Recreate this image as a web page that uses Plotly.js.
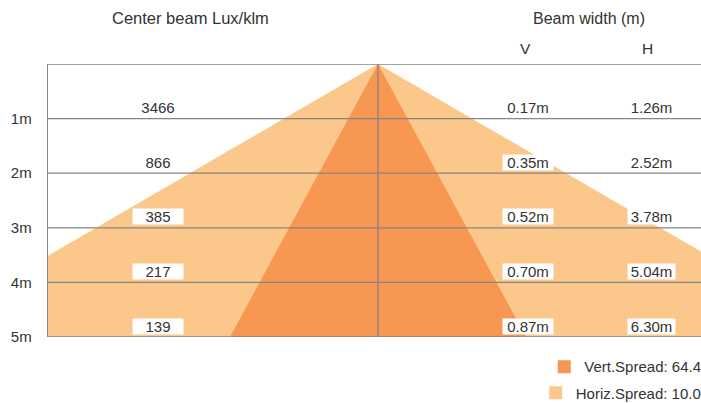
<!DOCTYPE html>
<html>
<head>
<meta charset="utf-8">
<script src="https://cdn.plot.ly/plotly-3.0.1.min.js"></script>
<style>
html,body{margin:0;padding:0;overflow:hidden;background:#fff;width:701px;height:403px;}
#chart{width:760px;height:403px;}
</style>
</head>
<body>
<div id="chart"></div>
<script>
// ---- data ----
const distances = [0, 1, 2, 3, 4, 5];
const distLabels = ['', '1m', '2m', '3m', '4m', '5m'];
const luxValues = ['3466', '866', '385', '217', '139'];
const vWidths = ['0.17m', '0.35m', '0.52m', '0.70m', '0.87m'];
const hWidths = ['1.26m', '2.52m', '3.78m', '5.04m', '6.30m'];
const beamDepth = [0, 5];          // apex depth, base depth (m)
const vertHalf = [0, 148];         // half-width of vertical beam cone (plot units)
const horizHalf = [0, 470];        // half-width of horizontal beam cone (plot units)
const seriesNames = ['Vert.Spread: 64.4°', 'Horiz.Spread: 10.0°'];
const headers = ['Center beam Lux/klm', 'Beam width (m)', 'V', 'H'];

// ---- styling ----
const darkC = '#F79751';
const lightC = '#FBC78A';
const gridC = '#858585';
const txtC = '#333333';
const FONT = 'Helvetica Neue, Liberation Sans, Arial, sans-serif';

function cone(half, name, color) {
  return {
    type: 'scatter', mode: 'lines', name: name,
    x: [-half[1], half[0], half[1]],
    y: [beamDepth[1], beamDepth[0], beamDepth[1]],
    fill: 'toself', fillcolor: color,
    line: {width: 0, color: color},
    showlegend: false, hoverinfo: 'skip'
  };
}
const traces = [
  cone(horizHalf, seriesNames[1], lightC),
  cone(vertHalf, seriesNames[0], darkC),
  {type: 'scatter', mode: 'markers', x: [null], y: [null], name: seriesNames[0], legend: 'legend',
   marker: {symbol: 'square', size: 13, color: darkC}},
  {type: 'scatter', mode: 'markers', x: [null], y: [null], name: seriesNames[1], legend: 'legend2',
   marker: {symbol: 'square', size: 13, color: lightC}}
];

const luxX = -220, vX = 150, hX = 273;
const annotations = [];
function cell(x, d, text, w) {
  annotations.push({
    xref: 'x', yref: 'y', x: x, y: d, yanchor: 'middle', yshift: 11,
    text: text, showarrow: false, bgcolor: '#ffffff', width: w, height: 15,
    borderpad: 0, font: {family: FONT, size: 15, color: txtC}
  });
}
for (let i = 0; i < luxValues.length; i++) {
  const d = distances[i + 1];
  cell(luxX, d, luxValues[i], 50);
  cell(vX, d, vWidths[i], 50);
  cell(hX, d, hWidths[i], 47);
}
function header(x, shift, text, size) {
  annotations.push({
    xref: 'x', yref: 'paper', x: x, y: 1, yanchor: 'middle', yshift: shift,
    text: text, showarrow: false, font: {family: FONT, size: size, color: txtC}
  });
}
header(-188, 46, headers[0], 16.5);
header(211, 46, headers[1], 16);
header(147, 16, headers[2], 15.5);
header(269, 16, headers[3], 15.5);

const shapes = distances.map(d => ({
  type: 'line', xref: 'paper', x0: 0, x1: 1, yref: 'y', y0: d, y1: d,
  layer: 'above', line: {color: gridC, width: 1.3}
}));
shapes.push({type: 'line', xref: 'x', x0: 0, x1: 0, yref: 'y', y0: beamDepth[0], y1: beamDepth[1],
  layer: 'above', line: {color: gridC, width: 1.3}});

const legendBase = {xanchor: 'left', yanchor: 'top',
  font: {family: FONT, size: 15, color: txtC}, bgcolor: 'rgba(0,0,0,0)'};

const layout = {
  width: 760, height: 403,
  margin: {l: 48, r: 0, t: 64, b: 66, autoexpand: false},
  paper_bgcolor: '#fff', plot_bgcolor: '#fff',
  font: {family: FONT, size: 15, color: txtC},
  xaxis: {range: [-330, 382], showgrid: false, zeroline: false, showticklabels: false,
          ticks: '', showline: false, fixedrange: true},
  yaxis: {range: [5, 0], showgrid: false, zeroline: false,
          tickvals: distances.slice(1), ticktext: distLabels.slice(1),
          ticks: 'outside', ticklen: 12, tickcolor: 'rgba(0,0,0,0)',
          tickfont: {family: FONT, size: 15, color: txtC},
          showline: true, linecolor: gridC, linewidth: 1.3, layer: 'above traces', fixedrange: true},
  showlegend: true,
  legend: Object.assign({}, legendBase, {x: 0.697, y: -0.049}),
  legend2: Object.assign({}, legendBase, {x: 0.685, y: -0.145}),
  annotations: annotations,
  shapes: shapes
};
Plotly.newPlot('chart', traces, layout, {displayModeBar: false, staticPlot: true});
</script>
</body>
</html>
